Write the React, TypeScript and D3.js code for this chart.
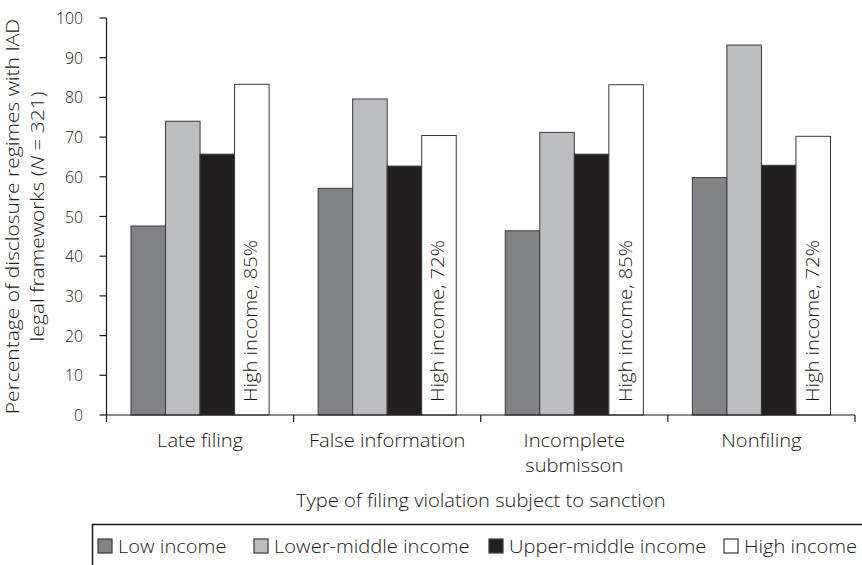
import React from "react";
import * as d3 from "d3";

const categories = ["Late filing", "False information", "Incomplete\nsubmisson", "Nonfiling"];
const seriesNames = ["Low income", "Lower-middle income", "Upper-middle income", "High income"];
const lowIncome = [47.6, 57.1, 46.4, 59.8];
const lowerMiddleIncome = [74.0, 79.6, 71.2, 93.2];
const upperMiddleIncome = [65.7, 62.7, 65.7, 62.9];
const highIncome = [83.3, 70.4, 83.2, 70.2];
const highIncomeLabels = ["High income, 85%", "High income, 72%", "High income, 85%", "High income, 72%"];
const yTicks = [0, 10, 20, 30, 40, 50, 60, 70, 80, 90, 100];
const xTitle = "Type of filing violation subject to sanction";

const seriesValues = [lowIncome, lowerMiddleIncome, upperMiddleIncome, highIncome];
const colors = ["#828386", "#bcbdc0", "#231f20", "#ffffff"];
const INK = "#1a1718";
const FONT = "'Open Sans', 'Liberation Sans', Arial, sans-serif";
const FS = 17.5;
const SX = 1.15;

function SText({ x, y, rotate = 0, anchor = "middle", children, size = FS, sx = SX }: any) {
  return (
    <g transform={`translate(${x},${y}) rotate(${rotate}) scale(${sx},1)`}>
      <text textAnchor={anchor} fontFamily={FONT} fontWeight={300} fontSize={size} fill={INK}>
        {children}
      </text>
    </g>
  );
}

export default function App() {
  const W = 862, H = 565;
  const left = 106.5, right = 855, top = 18, bottom = 415;
  const y = d3.scaleLinear().domain([0, 100]).range([bottom, top]);
  const x0 = d3.scaleBand<string>().domain(categories).range([left, right]).padding(0);
  const x1 = d3
    .scaleBand<string>()
    .domain(seriesNames)
    .range([0, x0.bandwidth()])
    .paddingInner(0)
    .paddingOuter(0.71);

  const boundaries = [...categories.map((c) => x0(c)!), right];
  const legendX = [98, 254, 489, 724];

  return (
    <svg width={W} height={H} style={{ position: "absolute", left: 0, top: 0, background: "#fff" }}>
      {/* bars */}
      {categories.map((c, ci) => (
        <g key={c}>
          {seriesNames.map((s, si) => {
            const v = seriesValues[si][ci];
            return (
              <rect
                key={s}
                x={x0(c)! + x1(s)!}
                y={y(v)}
                width={x1.bandwidth()}
                height={y(0) - y(v)}
                fill={colors[si]}
                stroke="#3a3839"
                strokeWidth={1}
              />
            );
          })}
          <SText
            x={x0(c)! + x1(seriesNames[3])! + x1.bandwidth() / 2 + 5.5}
            y={y(0) - 13}
            rotate={-90}
            anchor="start"
          >
            {highIncomeLabels[ci]}
          </SText>
        </g>
      ))}

      {/* y axis */}
      <line x1={left} x2={left} y1={y(100)} y2={y(0)} stroke={INK} strokeWidth={1.2} />
      {yTicks.map((t) => (
        <g key={t}>
          <line x1={left - 7} x2={left} y1={y(t)} y2={y(t)} stroke={INK} strokeWidth={1.2} />
          <SText x={83} y={y(t) + 6} anchor="end" size={17} sx={0.93}>
            {t}
          </SText>
        </g>
      ))}

      {/* x axis */}
      <line x1={left} x2={right} y1={y(0)} y2={y(0)} stroke={INK} strokeWidth={1.2} />
      {boundaries.map((b, i) => (
        <line key={i} x1={b} x2={b} y1={y(0)} y2={y(0) + 7} stroke={INK} strokeWidth={1.2} />
      ))}
      {categories.map((c) =>
        c.split("\n").map((line, li) => (
          <SText key={c + li} x={x0(c)! + x0.bandwidth() / 2} y={447 + li * 25}>
            {line}
          </SText>
        ))
      )}

      {/* axis titles */}
      <SText x={19} y={(top + bottom) / 2} rotate={-90} sx={1.2}>
        Percentage of disclosure regimes with IAD
      </SText>
      <SText x={44} y={(top + bottom) / 2} rotate={-90} sx={1.2}>
        legal frameworks (<tspan fontStyle="italic">N</tspan> = 321)
      </SText>
      <SText x={(left + right) / 2} y={507}>
        {xTitle}
      </SText>

      {/* legend */}
      <rect x={92.5} y={524.5} width={900} height={80} fill="none" stroke={INK} strokeWidth={1.5} />
      {seriesNames.map((s, i) => (
        <g key={s}>
          <rect x={legendX[i]} y={539} width={14} height={14} fill={colors[i]} stroke="#3a3839" strokeWidth={1.2} />
          <SText x={legendX[i] + 20} y={553} anchor="start">
            {s}
          </SText>
        </g>
      ))}
    </svg>
  );
}
